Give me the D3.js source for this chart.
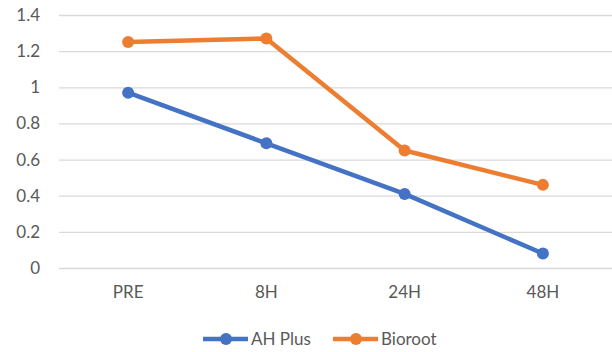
<!DOCTYPE html>
<html lang="en">
<head>
    <meta charset="UTF-8">
    <title>AH Plus vs Bioroot</title>
    <script src="https://d3js.org/d3.v7.min.js"></script>
    <style>
        body { margin: 0; background: #fff; }
        svg text { font-family: Lato, "Open Sans", sans-serif; fill: #595959; }
        .domain { display: none; }
    </style>
</head>
<body>
    <svg width="612" height="352"></svg>
    <script>
        const categories = ["PRE", "8H", "24H", "48H"];
        const ahPlus = [0.97, 0.69, 0.41, 0.08];
        const bioroot = [1.25, 1.27, 0.65, 0.46];
        const yTicks = [0, 0.2, 0.4, 0.6, 0.8, 1, 1.2, 1.4];

        const series = [
            { name: "AH Plus", values: ahPlus, color: "#4472C4" },
            { name: "Bioroot", values: bioroot, color: "#ED7D31" }
        ];

        const svg = d3.select("svg");
        const plotLeft = 59, plotRight = 612, plotTop = 15, plotBottom = 268;

        const x = d3.scaleBand().domain(categories).range([plotLeft, plotRight]);
        const y = d3.scaleLinear().domain([0, 1.4]).range([plotBottom, plotTop]);

        // gridlines + y labels
        svg.append("g")
            .attr("transform", `translate(${plotLeft},0)`)
            .call(d3.axisLeft(y).tickValues(yTicks).tickSize(-(plotRight - plotLeft)).tickPadding(19)
                .tickFormat(d => d3.format("")(d)))
            .call(g => g.selectAll(".tick line").attr("stroke", "#d9d9d9").attr("stroke-width", 1.3))
            .call(g => g.selectAll("text").style("font-size", "17px").attr("fill", "#595959"));

        // x labels
        svg.append("g")
            .attr("transform", `translate(0,${plotBottom})`)
            .call(d3.axisBottom(x).tickSize(0).tickPadding(18))
            .call(g => g.selectAll("text").style("font-size", "17px").attr("fill", "#595959"));

        const line = d3.line()
            .x((d, i) => x(categories[i]) + x.bandwidth() / 2)
            .y(d => y(d));

        series.forEach(s => {
            svg.append("path")
                .attr("d", line(s.values))
                .attr("fill", "none")
                .attr("stroke", s.color)
                .attr("stroke-width", 4.5)
                .attr("stroke-linejoin", "round");
            svg.selectAll(null)
                .data(s.values)
                .enter()
                .append("circle")
                .attr("cx", (d, i) => x(categories[i]) + x.bandwidth() / 2)
                .attr("cy", d => y(d))
                .attr("r", 6)
                .attr("fill", s.color);
        });

        // legend
        const legendX = [203, 333];
        const legend = svg.selectAll(".legend")
            .data(series)
            .enter()
            .append("g")
            .attr("class", "legend")
            .attr("transform", (d, i) => `translate(${legendX[i]},339)`);
        legend.append("line")
            .attr("x1", 0).attr("x2", 45)
            .attr("stroke", d => d.color)
            .attr("stroke-width", 4.5);
        legend.append("circle")
            .attr("cx", 23).attr("r", 6)
            .attr("fill", d => d.color);
        legend.append("text")
            .attr("x", 48)
            .attr("dy", "0.36em")
            .style("font-size", "17px")
            .text(d => d.name);
    </script>
</body>
</html>
